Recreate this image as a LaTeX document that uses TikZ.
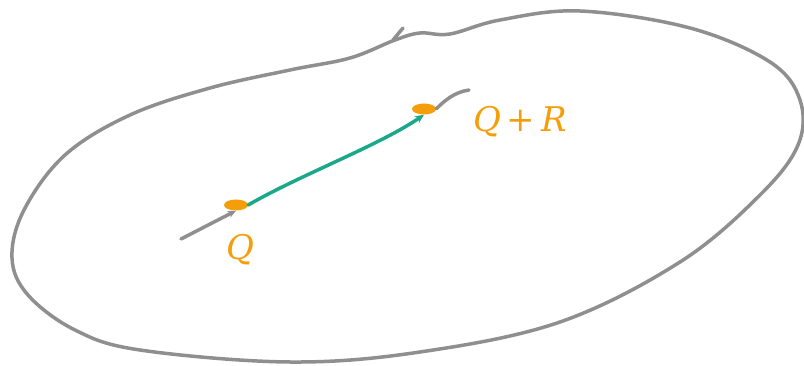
\documentclass[tikz,border=0pt]{standalone}
\usepackage{fontspec}
\setmainfont{DejaVu Serif}
\usetikzlibrary{arrows.meta,shapes.geometric}
\definecolor{inkgray}{HTML}{8F8F8F}
\definecolor{inkorange}{HTML}{F59E0B}
\definecolor{inkteal}{HTML}{1BA88A}
\tikzset{
  outline/.style={draw=inkgray, line width=3.5pt, line cap=round, line join=round},
  grayseg/.style={draw=inkgray, line width=3.5pt, line cap=round, -{Stealth[length=8pt,width=7pt]}},
  tealseg/.style={draw=inkteal, line width=3.5pt, line cap=round, -{Stealth[length=9pt,width=8pt]}},
  pointmark/.style={fill=inkorange, ellipse, minimum width=24pt, minimum height=11pt, inner sep=0pt},
  handlabel/.style={text=inkorange, font=\itshape\fontsize{34}{34}\selectfont, inner sep=0pt}
}
\begin{document}
\begin{tikzpicture}[x=1pt,y=-1pt]
\useasboundingbox (0,0) rectangle (804,366);
% closed region
\draw[outline] plot[smooth cycle, tension=0.6] coordinates {
  (395,40) (350,58) (290,70) (210,88) (130,115) (65,155) (24,210)
  (12,258) (28,295) (75,330) (140,350) (290,362) (420,352) (560,322)
  (680,262) (760,195) (798,145) (800,100) (770,62) (690,28) (580,11)
  (500,20) (450,34) (420,33)};
\draw[outline] (393,40) -- (403,28);
% end points
\node[pointmark] (p) at (236,205) {};
\node[pointmark] (q) at (424,109) {};
% segment through the two points
\coordinate (gs) at (181,239);
\coordinate (ge) at (469,90);
\draw[grayseg] (gs) -- (p.south);
\draw[tealseg] (p.east) .. controls (300,175) and (380,145) .. (q.south);
\draw[outline] (q.east) .. controls (445,100) and (455,92) .. (ge);
% labels
\node[handlabel] (lp) at (240,250) {Q};
\node[handlabel] (lq) at (520,122) {Q\,+\,R};
\end{tikzpicture}
\end{document}
